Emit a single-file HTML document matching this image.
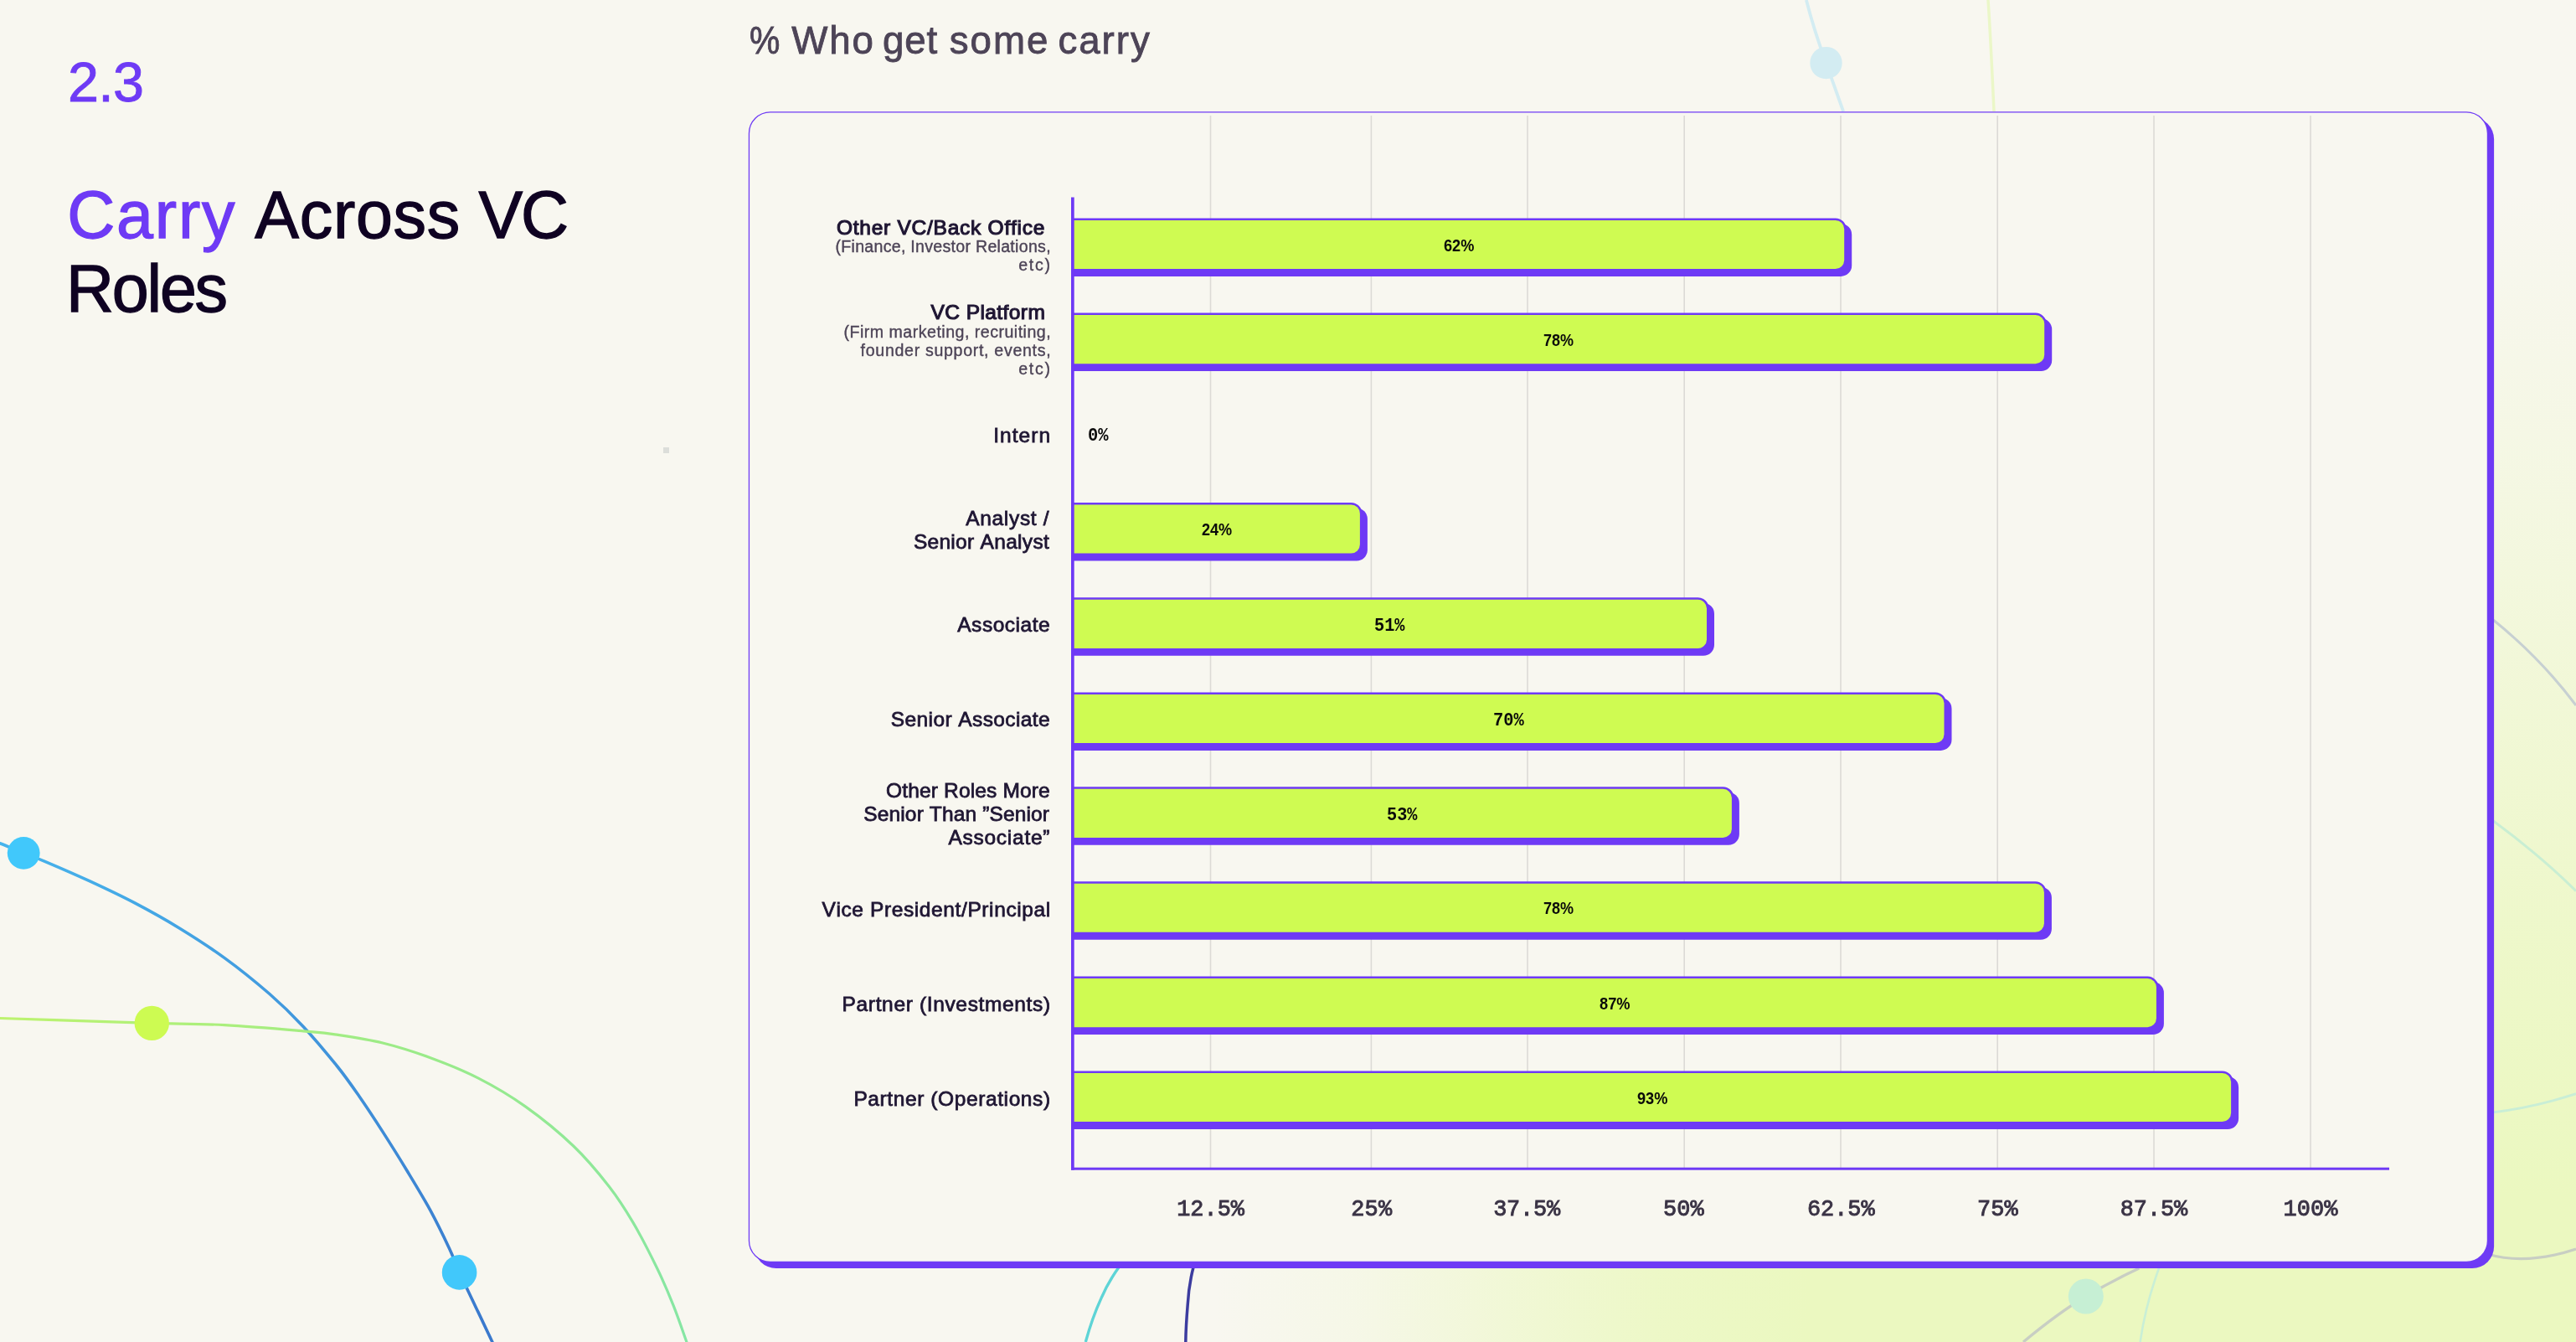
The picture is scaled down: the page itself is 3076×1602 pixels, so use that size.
<!DOCTYPE html>
<html lang="en"><head><meta charset="utf-8"><title>Carry Across VC Roles</title>
<style>
html,body{margin:0;padding:0}
body{width:3076px;height:1602px;overflow:hidden;position:relative;background:#f8f7f0;font-family:"Liberation Sans",sans-serif}
.t{position:absolute;white-space:pre;margin:0;font-family:"Liberation Sans",sans-serif;font-kerning:none;font-variant-ligatures:none;transform-origin:0 0}
.m{font-family:"Liberation Mono",monospace}
svg{position:absolute;left:0;top:0}
.txt{position:absolute;left:0;top:0;width:3076px;height:1602px;will-change:transform}
</style></head><body>

<svg width="3076" height="1602" viewBox="0 0 3076 1602">
<defs>
<linearGradient id="glowh" gradientUnits="userSpaceOnUse" x1="1450" y1="0" x2="2160" y2="0">
<stop offset="0" stop-color="#ebf8c0" stop-opacity="0"/><stop offset="0.25" stop-color="#ebf8c0" stop-opacity="0.2"/><stop offset="0.5" stop-color="#ebf8c0" stop-opacity="0.55"/><stop offset="0.75" stop-color="#ebf8c0" stop-opacity="0.86"/><stop offset="1" stop-color="#ebf8c0"/>
</linearGradient>
<linearGradient id="glowv" gradientUnits="userSpaceOnUse" x1="0" y1="230" x2="0" y2="1430">
<stop offset="0" stop-color="#ebf8c0" stop-opacity="0"/><stop offset="0.25" stop-color="#ebf8c0" stop-opacity="0.24"/><stop offset="0.5" stop-color="#ebf8c0" stop-opacity="0.52"/><stop offset="0.75" stop-color="#ebf8c0" stop-opacity="0.8"/><stop offset="1" stop-color="#ebf8c0"/>
</linearGradient>
<linearGradient id="gblue" gradientUnits="userSpaceOnUse" x1="0" y1="1007" x2="588" y2="1602"><stop offset="0" stop-color="#47b4ec"/><stop offset="1" stop-color="#3a78cc"/></linearGradient>
<linearGradient id="ggreen" gradientUnits="userSpaceOnUse" x1="0" y1="1215" x2="820" y2="1602"><stop offset="0" stop-color="#bdf36f"/><stop offset="0.5" stop-color="#9beb88"/><stop offset="1" stop-color="#86e6a4"/></linearGradient>
</defs>
<rect x="1400" y="1500" width="1560" height="102" fill="url(#glowh)"/>
<rect x="2960" y="0" width="116" height="1602" fill="url(#glowv)"/>
<!-- left curves -->
<path d="M-20.0 1000.0C-16.7 1001.1 -8.0 1003.7 0.0 1006.8C8.0 1009.9 19.3 1014.8 28.2 1018.4C37.1 1022.0 40.4 1022.7 53.6 1028.3C66.8 1033.9 89.4 1043.6 107.3 1051.9C125.2 1060.2 143.0 1068.5 160.9 1077.9C178.8 1087.3 196.7 1097.2 214.6 1108.2C232.5 1119.2 250.3 1130.5 268.2 1143.6C286.1 1156.6 306.2 1172.9 321.9 1186.5C337.5 1200.1 348.7 1211.1 362.1 1225.4C375.5 1239.7 391.3 1258.7 402.4 1272.5C413.5 1286.3 419.7 1295.4 428.8 1308.5C437.9 1321.6 447.5 1336.2 456.9 1350.9C466.3 1365.6 475.9 1380.8 485.4 1396.5C494.9 1412.2 505.4 1429.2 513.9 1444.9C522.4 1460.6 530.8 1478.1 536.6 1490.4C542.4 1502.7 542.9 1506.3 548.6 1518.9C554.3 1531.5 564.2 1552.1 570.8 1565.9C577.3 1579.8 583.5 1592.7 587.9 1602.0C592.3 1611.3 595.5 1618.7 597.0 1622.0" fill="none" stroke="url(#gblue)" stroke-width="3.6"/>
<path d="M-20.0 1214.8C-16.7 1214.9 -16.8 1214.9 0.0 1215.5C16.8 1216.1 50.3 1217.2 80.5 1218.2C110.7 1219.2 150.0 1220.5 181.3 1221.4C212.6 1222.3 238.1 1222.0 268.2 1223.6C298.3 1225.2 340.1 1228.9 362.1 1230.8C384.1 1232.7 384.2 1232.4 400.0 1234.8C415.8 1237.2 437.9 1240.3 456.9 1245.0C475.9 1249.7 494.9 1255.7 513.9 1262.7C532.9 1269.7 551.8 1277.2 570.8 1286.9C589.8 1296.6 608.7 1307.6 627.7 1321.1C646.7 1334.6 668.1 1352.1 684.7 1368.0C701.3 1383.9 715.5 1401.2 727.4 1416.4C739.2 1431.6 746.3 1443.0 755.8 1459.1C765.3 1475.2 776.2 1496.6 784.3 1513.2C792.4 1529.8 798.3 1543.9 804.2 1558.7C810.1 1573.5 816.1 1591.5 819.9 1602.0C823.7 1612.5 825.8 1618.7 827.0 1622.0" fill="none" stroke="url(#ggreen)" stroke-width="3.2"/>
<circle cx="28.2" cy="1018.4" r="19.4" fill="#41c8fb"/>
<circle cx="548.6" cy="1518.9" r="20.8" fill="#41c8fb"/>
<circle cx="181.3" cy="1221.4" r="20.7" fill="#cdfb52"/>
<!-- top decor -->
<path d="M2156.9 0 C 2164 28 2172 52 2180.5 75.1 C 2188 96 2195 116 2201.1 133" fill="none" stroke="#d3ecf2" stroke-width="3.8"/>
<circle cx="2180.5" cy="75.1" r="19.2" fill="#d3ecf2"/>
<path d="M2374 0 C 2377 45 2379 90 2381 133" fill="none" stroke="#ebf7c8" stroke-width="3.5"/>
<!-- bottom decor -->
<path d="M1336.6 1512 C 1327 1525 1320 1538 1314.9 1549.9 C 1307 1567 1301 1585 1296.3 1602" fill="none" stroke="#5ed4d6" stroke-width="3.4"/>
<path d="M1425.2 1512 C 1421 1528 1419 1543 1418.2 1557.6 C 1417 1572 1416 1588 1415.8 1602" fill="none" stroke="#3c3c9f" stroke-width="3.5"/>
<path d="M2416 1602 C 2440 1582 2465 1563 2490.8 1547.5 C 2512 1535 2533 1524 2554.4 1514" fill="none" stroke="#c8cec3" stroke-width="3.3"/>
<path d="M2578.7 1512 C 2568 1541 2560 1571 2555.6 1602" fill="none" stroke="#c9efd6" stroke-width="2.6"/>
<circle cx="2490.8" cy="1547.5" r="21" fill="#c6efd4"/>
<!-- right decor -->
<path d="M2976 739 C 3012 768 3046 802 3076 842" fill="none" stroke="#c7d0d2" stroke-width="3"/>
<path d="M2976 979 C 3010 1004 3044 1032 3076 1063.6" fill="none" stroke="#c9eed3" stroke-width="3"/>
<path d="M2976 1328 C 3010 1324 3044 1316 3076 1305.8" fill="none" stroke="#c9eed6" stroke-width="3"/>
<path d="M2970 1497 C 3004 1507 3040 1503 3076 1491" fill="none" stroke="#c8cec3" stroke-width="3.3"/>
<rect x="792" y="534" width="7" height="7" fill="#dcdeda"/>

<rect x="900.8" y="140.2" width="2077.3" height="1373.8999999999999" rx="26" fill="#6e3af5"/>
<rect x="894.45" y="133.85" width="2076.00" height="1372.60" rx="25.35" fill="#f8f7f0" stroke="#6f3cf5" stroke-width="1.3"/>
<rect x="1444.70" y="138" width="1.6" height="1256" fill="#dcdad6"/>
<rect x="1636.60" y="138" width="1.6" height="1256" fill="#dcdad6"/>
<rect x="1823.20" y="138" width="1.6" height="1256" fill="#dcdad6"/>
<rect x="2010.40" y="138" width="1.6" height="1256" fill="#dcdad6"/>
<rect x="2197.20" y="138" width="1.6" height="1256" fill="#dcdad6"/>
<rect x="2384.40" y="138" width="1.6" height="1256" fill="#dcdad6"/>
<rect x="2571.20" y="138" width="1.6" height="1256" fill="#dcdad6"/>
<rect x="2758.20" y="138" width="1.6" height="1256" fill="#dcdad6"/>
<path d="M1281.00 266.90H2198.20A13 13 0 0 1 2211.20 279.90V316.90A13 13 0 0 1 2198.20 329.90H1281.00Z" fill="#6e3af5"/>
<path d="M1281.00 260.40H2191.70A13 13 0 0 1 2204.70 273.40V310.40A13 13 0 0 1 2191.70 323.40H1281.00Z" fill="#6e3af5"/>
<path d="M1281.00 262.90H2191.70A10.5 10.5 0 0 1 2202.20 273.40V310.50A10.5 10.5 0 0 1 2191.70 321.00H1281.00Z" fill="#cffb52"/>
<path d="M1281.00 380.10H2437.20A13 13 0 0 1 2450.20 393.10V430.10A13 13 0 0 1 2437.20 443.10H1281.00Z" fill="#6e3af5"/>
<path d="M1281.00 373.60H2430.70A13 13 0 0 1 2443.70 386.60V423.60A13 13 0 0 1 2430.70 436.60H1281.00Z" fill="#6e3af5"/>
<path d="M1281.00 376.10H2430.70A10.5 10.5 0 0 1 2441.20 386.60V423.70A10.5 10.5 0 0 1 2430.70 434.20H1281.00Z" fill="#cffb52"/>
<path d="M1281.00 606.50H1619.90A13 13 0 0 1 1632.90 619.50V656.50A13 13 0 0 1 1619.90 669.50H1281.00Z" fill="#6e3af5"/>
<path d="M1281.00 600.00H1613.40A13 13 0 0 1 1626.40 613.00V650.00A13 13 0 0 1 1613.40 663.00H1281.00Z" fill="#6e3af5"/>
<path d="M1281.00 602.50H1613.40A10.5 10.5 0 0 1 1623.90 613.00V650.10A10.5 10.5 0 0 1 1613.40 660.60H1281.00Z" fill="#cffb52"/>
<path d="M1281.00 719.80H2034.00A13 13 0 0 1 2047.00 732.80V769.80A13 13 0 0 1 2034.00 782.80H1281.00Z" fill="#6e3af5"/>
<path d="M1281.00 713.30H2027.50A13 13 0 0 1 2040.50 726.30V763.30A13 13 0 0 1 2027.50 776.30H1281.00Z" fill="#6e3af5"/>
<path d="M1281.00 715.80H2027.50A10.5 10.5 0 0 1 2038.00 726.30V763.40A10.5 10.5 0 0 1 2027.50 773.90H1281.00Z" fill="#cffb52"/>
<path d="M1281.00 832.90H2317.50A13 13 0 0 1 2330.50 845.90V882.90A13 13 0 0 1 2317.50 895.90H1281.00Z" fill="#6e3af5"/>
<path d="M1281.00 826.40H2311.00A13 13 0 0 1 2324.00 839.40V876.40A13 13 0 0 1 2311.00 889.40H1281.00Z" fill="#6e3af5"/>
<path d="M1281.00 828.90H2311.00A10.5 10.5 0 0 1 2321.50 839.40V876.50A10.5 10.5 0 0 1 2311.00 887.00H1281.00Z" fill="#cffb52"/>
<path d="M1281.00 945.80H2063.90A13 13 0 0 1 2076.90 958.80V995.80A13 13 0 0 1 2063.90 1008.80H1281.00Z" fill="#6e3af5"/>
<path d="M1281.00 939.30H2057.40A13 13 0 0 1 2070.40 952.30V989.30A13 13 0 0 1 2057.40 1002.30H1281.00Z" fill="#6e3af5"/>
<path d="M1281.00 941.80H2057.40A10.5 10.5 0 0 1 2067.90 952.30V989.40A10.5 10.5 0 0 1 2057.40 999.90H1281.00Z" fill="#cffb52"/>
<path d="M1281.00 1058.70H2436.90A13 13 0 0 1 2449.90 1071.70V1108.70A13 13 0 0 1 2436.90 1121.70H1281.00Z" fill="#6e3af5"/>
<path d="M1281.00 1052.20H2430.40A13 13 0 0 1 2443.40 1065.20V1102.20A13 13 0 0 1 2430.40 1115.20H1281.00Z" fill="#6e3af5"/>
<path d="M1281.00 1054.70H2430.40A10.5 10.5 0 0 1 2440.90 1065.20V1102.30A10.5 10.5 0 0 1 2430.40 1112.80H1281.00Z" fill="#cffb52"/>
<path d="M1281.00 1172.10H2570.90A13 13 0 0 1 2583.90 1185.10V1222.10A13 13 0 0 1 2570.90 1235.10H1281.00Z" fill="#6e3af5"/>
<path d="M1281.00 1165.60H2564.40A13 13 0 0 1 2577.40 1178.60V1215.60A13 13 0 0 1 2564.40 1228.60H1281.00Z" fill="#6e3af5"/>
<path d="M1281.00 1168.10H2564.40A10.5 10.5 0 0 1 2574.90 1178.60V1215.70A10.5 10.5 0 0 1 2564.40 1226.20H1281.00Z" fill="#cffb52"/>
<path d="M1281.00 1285.00H2660.10A13 13 0 0 1 2673.10 1298.00V1335.00A13 13 0 0 1 2660.10 1348.00H1281.00Z" fill="#6e3af5"/>
<path d="M1281.00 1278.50H2653.60A13 13 0 0 1 2666.60 1291.50V1328.50A13 13 0 0 1 2653.60 1341.50H1281.00Z" fill="#6e3af5"/>
<path d="M1281.00 1281.00H2653.60A10.5 10.5 0 0 1 2664.10 1291.50V1328.60A10.5 10.5 0 0 1 2653.60 1339.10H1281.00Z" fill="#cffb52"/>
<rect x="1279" y="235.5" width="3.7" height="1161.2" fill="#6e3af5"/>
<rect x="1279" y="1393.7" width="1574" height="3" fill="#6e3af5"/>
</svg>
<div class="txt">
<div class="t" style="left:81.11px;top:57.95px;font-size:66.5px;line-height:80px;color:#6e3af5;letter-spacing:-0.789px;-webkit-text-stroke:0.9px #6e3af5;">2.3</div>
<div class="t" style="left:80.14px;top:209.21px;font-size:79px;line-height:95px;color:#6e3af5;letter-spacing:1.841px;-webkit-text-stroke:1.3px #6e3af5;">Carry</div>
<div class="t" style="left:304.30px;top:209.21px;font-size:79px;line-height:95px;color:#0f0222;letter-spacing:0.715px;-webkit-text-stroke:1.3px #0f0222;">Across</div>
<div class="t" style="left:571.40px;top:209.21px;font-size:79px;line-height:95px;color:#0f0222;letter-spacing:-2.088px;-webkit-text-stroke:1.3px #0f0222;">VC</div>
<div class="t" style="left:78.97px;top:297.41px;font-size:79px;line-height:95px;color:#0f0222;letter-spacing:-2.210px;-webkit-text-stroke:1.3px #0f0222;">Roles</div>
<div class="t" style="left:894.62px;top:21.16px;font-size:45.7px;line-height:55px;color:#4d4457;-webkit-text-stroke:0.85px #4d4457;transform:scaleX(0.8947);">%</div>
<div class="t" style="left:945.22px;top:21.16px;font-size:45.7px;line-height:55px;color:#4d4457;letter-spacing:1.902px;-webkit-text-stroke:0.85px #4d4457;">Who</div>
<div class="t" style="left:1054.11px;top:21.16px;font-size:45.7px;line-height:55px;color:#4d4457;letter-spacing:0.737px;-webkit-text-stroke:0.85px #4d4457;">get</div>
<div class="t" style="left:1133.85px;top:21.16px;font-size:45.7px;line-height:55px;color:#4d4457;letter-spacing:1.934px;-webkit-text-stroke:0.85px #4d4457;">some</div>
<div class="t" style="left:1263.38px;top:21.16px;font-size:45.7px;line-height:55px;color:#4d4457;letter-spacing:1.957px;-webkit-text-stroke:0.85px #4d4457;">carry</div>
<div class="t" style="left:999.01px;top:256.71px;font-size:24.5px;line-height:29px;color:#1f1633;letter-spacing:0.743px;-webkit-text-stroke:1.15px #1f1633;">Other VC/Back Office</div>
<div class="t" style="left:997.47px;top:282.41px;font-size:19.6px;line-height:24px;color:#4d4457;letter-spacing:0.276px;-webkit-text-stroke:0.38px #4d4457;">(Finance, Investor Relations,</div>
<div class="t" style="left:1216.16px;top:303.71px;font-size:19.6px;line-height:24px;color:#4d4457;letter-spacing:1.765px;-webkit-text-stroke:0.38px #4d4457;">etc)</div>
<div class="t" style="left:1111.57px;top:358.11px;font-size:24.5px;line-height:29px;color:#1f1633;letter-spacing:0.421px;-webkit-text-stroke:1.15px #1f1633;">VC Platform</div>
<div class="t" style="left:1007.57px;top:383.81px;font-size:19.6px;line-height:24px;color:#4d4457;letter-spacing:0.479px;-webkit-text-stroke:0.38px #4d4457;">(Firm marketing, recruiting,</div>
<div class="t" style="left:1027.61px;top:405.71px;font-size:19.6px;line-height:24px;color:#4d4457;letter-spacing:0.682px;-webkit-text-stroke:0.38px #4d4457;">founder support, events,</div>
<div class="t" style="left:1216.16px;top:427.91px;font-size:19.6px;line-height:24px;color:#4d4457;letter-spacing:1.765px;-webkit-text-stroke:0.38px #4d4457;">etc)</div>
<div class="t" style="left:1186.14px;top:504.61px;font-size:24.5px;line-height:29px;color:#1f1633;letter-spacing:1.080px;-webkit-text-stroke:0.8px #1f1633;">Intern</div>
<div class="t" style="left:1153.25px;top:603.51px;font-size:24.5px;line-height:29px;color:#1f1633;letter-spacing:0.674px;-webkit-text-stroke:0.8px #1f1633;">Analyst /</div>
<div class="t" style="left:1090.89px;top:631.81px;font-size:24.5px;line-height:29px;color:#1f1633;letter-spacing:0.302px;-webkit-text-stroke:0.8px #1f1633;">Senior Analyst</div>
<div class="t" style="left:1143.25px;top:730.71px;font-size:24.5px;line-height:29px;color:#1f1633;letter-spacing:0.527px;-webkit-text-stroke:0.8px #1f1633;">Associate</div>
<div class="t" style="left:1063.79px;top:844.21px;font-size:24.5px;line-height:29px;color:#1f1633;letter-spacing:0.404px;-webkit-text-stroke:0.8px #1f1633;">Senior Associate</div>
<div class="t" style="left:1058.04px;top:928.51px;font-size:24.5px;line-height:29px;color:#1f1633;letter-spacing:0.154px;-webkit-text-stroke:0.8px #1f1633;">Other Roles More</div>
<div class="t" style="left:1031.29px;top:956.81px;font-size:24.5px;line-height:29px;color:#1f1633;letter-spacing:0.137px;-webkit-text-stroke:0.8px #1f1633;">Senior Than ”Senior</div>
<div class="t" style="left:1132.45px;top:985.41px;font-size:24.5px;line-height:29px;color:#1f1633;letter-spacing:0.741px;-webkit-text-stroke:0.8px #1f1633;">Associate”</div>
<div class="t" style="left:981.49px;top:1071.01px;font-size:24.5px;line-height:29px;color:#1f1633;letter-spacing:0.609px;-webkit-text-stroke:0.8px #1f1633;">Vice President/Principal</div>
<div class="t" style="left:1005.59px;top:1183.91px;font-size:24.5px;line-height:29px;color:#1f1633;letter-spacing:0.649px;-webkit-text-stroke:0.8px #1f1633;">Partner (Investments)</div>
<div class="t" style="left:1019.39px;top:1296.91px;font-size:24.5px;line-height:29px;color:#1f1633;letter-spacing:0.601px;-webkit-text-stroke:0.8px #1f1633;">Partner (Operations)</div>
<div class="t" style="left:1724.04px;top:279.69px;font-size:20.5px;line-height:25px;color:#0a0a0a;font-weight:700;transform:scaleX(0.8858);">62%</div>
<div class="t" style="left:1843.43px;top:392.89px;font-size:20.5px;line-height:25px;color:#0a0a0a;font-weight:700;transform:scaleX(0.8786);">78%</div>
<div class="t m" style="left:1299.43px;top:508.03px;font-size:21.7px;line-height:26px;color:#0a0a0a;font-weight:700;transform:scaleX(0.9430);">0%</div>
<div class="t" style="left:1434.87px;top:619.29px;font-size:20.5px;line-height:25px;color:#0a0a0a;font-weight:700;transform:scaleX(0.8824);">24%</div>
<div class="t m" style="left:1640.97px;top:734.53px;font-size:21.7px;line-height:26px;color:#0a0a0a;font-weight:700;transform:scaleX(0.9322);">51%</div>
<div class="t m" style="left:1783.00px;top:847.63px;font-size:21.7px;line-height:26px;color:#0a0a0a;font-weight:700;transform:scaleX(0.9393);">70%</div>
<div class="t m" style="left:1656.37px;top:960.53px;font-size:21.7px;line-height:26px;color:#0a0a0a;font-weight:700;transform:scaleX(0.9322);">53%</div>
<div class="t" style="left:1843.32px;top:1071.49px;font-size:20.5px;line-height:25px;color:#0a0a0a;font-weight:700;transform:scaleX(0.8811);">78%</div>
<div class="t" style="left:1910.42px;top:1184.89px;font-size:20.5px;line-height:25px;color:#0a0a0a;font-weight:700;transform:scaleX(0.8911);">87%</div>
<div class="t" style="left:1955.27px;top:1297.79px;font-size:20.5px;line-height:25px;color:#0a0a0a;font-weight:700;transform:scaleX(0.8874);">93%</div>
<div class="t m" style="left:1405.21px;top:1427.54px;font-size:26.9px;line-height:32px;color:#3a3345;letter-spacing:0.004px;-webkit-text-stroke:0.9px #3a3345;">12.5%</div>
<div class="t m" style="left:1613.16px;top:1427.54px;font-size:26.9px;line-height:32px;color:#3a3345;letter-spacing:0.225px;-webkit-text-stroke:0.9px #3a3345;">25%</div>
<div class="t m" style="left:1783.17px;top:1427.54px;font-size:26.9px;line-height:32px;color:#3a3345;letter-spacing:-0.186px;-webkit-text-stroke:0.9px #3a3345;">37.5%</div>
<div class="t m" style="left:1986.07px;top:1427.54px;font-size:26.9px;line-height:32px;color:#3a3345;letter-spacing:0.120px;-webkit-text-stroke:0.9px #3a3345;">50%</div>
<div class="t m" style="left:2157.97px;top:1427.54px;font-size:26.9px;line-height:32px;color:#3a3345;letter-spacing:-0.011px;-webkit-text-stroke:0.9px #3a3345;">62.5%</div>
<div class="t m" style="left:2360.97px;top:1427.54px;font-size:26.9px;line-height:32px;color:#3a3345;letter-spacing:0.067px;-webkit-text-stroke:0.9px #3a3345;">75%</div>
<div class="t m" style="left:2531.80px;top:1427.54px;font-size:26.9px;line-height:32px;color:#3a3345;letter-spacing:-0.070px;-webkit-text-stroke:0.9px #3a3345;">87.5%</div>
<div class="t m" style="left:2726.41px;top:1427.54px;font-size:26.9px;line-height:32px;color:#3a3345;letter-spacing:0.153px;-webkit-text-stroke:0.9px #3a3345;">100%</div>
</div>
</body></html>
